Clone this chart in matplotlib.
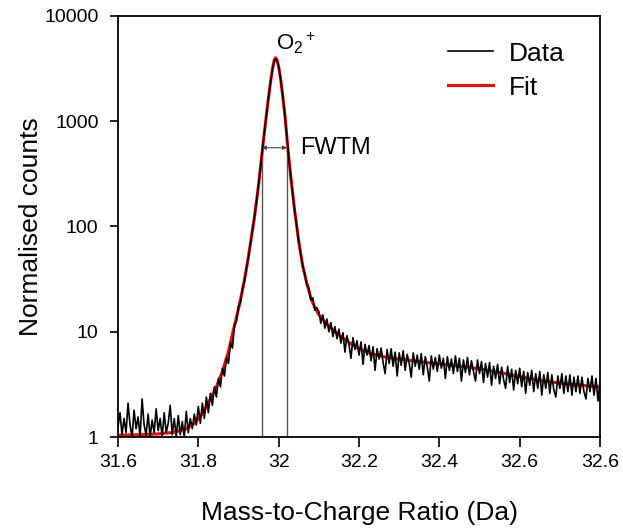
import numpy as np
import matplotlib
matplotlib.use('Agg')
import matplotlib.pyplot as plt

plt.rcParams['font.family'] = ['Liberation Sans', 'DejaVu Sans']
plt.rcParams['mathtext.fontset'] = 'custom'
plt.rcParams['mathtext.rm'] = 'Liberation Sans'
plt.rcParams['mathtext.it'] = 'Liberation Sans:italic'

# measured spectrum, 0.005 Da steps from 31.600 to 32.800
data_start = 31.6
data_step = 0.005
data_counts = [
    1.25, 1.7, 1.05, 1.5, 1.1, 2.1, 1.3, 1.0, 1.8, 1.2,
    1.55, 1.0, 2.3, 1.3, 1.05, 1.65, 1.0, 1.45, 1.1, 1.85,
    1.15, 1.5, 1.0, 1.7, 1.1, 1.35, 2.0, 1.05, 1.5, 1.0,
    1.6, 1.05, 1.4, 1.0, 1.75, 1.1, 1.5, 1.2, 1.65, 1.3,
    1.95, 1.35, 2.1, 1.5, 2.4, 1.7, 2.6, 2.0, 3.0, 2.4,
    3.6, 3.0, 4.5, 3.8, 5.6, 5.0, 7.8, 7.0, 11.6, 12.5,
    17.5, 19, 26, 30, 41, 51, 70, 93, 125, 175,
    250, 370, 560, 820, 1200, 1700, 2400, 3200, 3850, 3900,
    3300, 2500, 1750, 1200, 750, 450, 300, 200, 140, 100,
    72, 54, 42, 35, 28, 26, 20, 21, 16, 17,
    15.5, 12.0, 14.5, 10.8, 13.2, 10.0, 12.2, 9.0, 11.2, 8.6,
    10.6, 7.8, 9.8, 6.4, 9.2, 7.6, 5.6, 8.8, 6.8, 8.2,
    6.0, 8.0, 4.9, 7.6, 6.0, 7.4, 5.3, 7.2, 4.3, 6.9,
    5.5, 7.0, 5.1, 4.0, 6.8, 5.0, 6.9, 4.7, 6.4, 3.8,
    6.3, 4.8, 6.6, 4.3, 6.1, 5.0, 3.7, 6.3, 4.7, 6.0,
    4.4, 6.2, 3.9, 5.8, 4.6, 3.4, 5.9, 4.4, 5.7, 4.2,
    6.0, 4.5, 5.6, 3.6, 5.8, 4.3, 5.5, 4.0, 5.9, 4.2,
    5.6, 3.4, 5.4, 4.1, 5.7, 3.9, 5.3, 4.2, 3.4, 5.4,
    4.0, 5.2, 3.3, 5.0, 3.7, 5.1, 3.1, 4.7, 3.6, 4.9,
    3.2, 4.6, 3.5, 2.9, 4.7, 3.3, 4.4, 2.8, 4.3, 3.2,
    4.5, 3.0, 4.2, 2.6, 4.1, 3.1, 4.3, 2.7, 4.0, 2.9,
    4.2, 2.5, 3.9, 2.9, 4.1, 2.6, 3.9, 2.8, 2.4, 3.8,
    2.9, 4.0, 2.6, 3.8, 2.7, 3.9, 2.5, 3.7, 2.7, 3.8,
    2.6, 3.7, 2.7, 2.3, 3.6, 2.7, 3.8, 2.5, 3.6, 2.2,
    3.4,
]

# fitted peak shape
fit_mz = [31.600, 31.650, 31.700, 31.740, 31.770, 31.790, 31.810, 31.830, 31.845,
          31.860, 31.875, 31.890, 31.900, 31.910, 31.920, 31.930, 31.940, 31.950,
          31.960, 31.967, 31.974, 31.980, 31.985, 31.989, 31.992, 31.995, 32.000,
          32.005, 32.010, 32.016, 32.022, 32.030, 32.040, 32.050, 32.060, 32.070,
          32.080, 32.090, 32.100, 32.120, 32.140, 32.160, 32.180, 32.200, 32.230,
          32.260, 32.300, 32.350, 32.400, 32.450, 32.500, 32.550, 32.600, 32.650,
          32.700, 32.750, 32.800]
fit_counts = [1.04, 1.05, 1.07, 1.11, 1.2, 1.35, 1.65, 2.3, 3.0,
              4.2, 6.5, 11.5, 16.5, 25, 40, 70, 125, 250,
              560, 950, 1600, 2400, 3200, 3800, 4000, 3900, 3300,
              2500, 1750, 1100, 600, 300, 140, 72, 42, 29,
              21, 17, 14.5, 11.8, 10.0, 8.7, 7.7, 6.9, 6.2,
              5.8, 5.5, 5.2, 4.95, 4.7, 4.45, 4.1, 3.75, 3.45,
              3.25, 3.1, 3.0]

# full width at tenth maximum markers
fwtm_left = 31.958
fwtm_right = 32.021
fwtm_level = 560

x_ticks = [31.6, 31.8, 32.0, 32.2, 32.4, 32.6, 32.8]
x_tick_labels = ['31.6', '31.8', '32', '32.2', '32.4', '32.6', '32.6']
y_ticks = [1, 10, 100, 1000, 10000]
y_tick_labels = ['1', '10', '100', '1000', '10000']

data_mz = data_start + data_step * np.arange(len(data_counts))

fig = plt.figure(figsize=(6.23, 5.29), dpi=100)
ax = fig.add_axes([0.1894, 0.1739, 0.7737, 0.7959])

ax.plot(fit_mz, fit_counts, color='#ff0000', lw=2.2, label='Fit', zorder=2)
ax.plot(data_mz, data_counts, color='black', lw=1.2, label='Data', zorder=3)

ax.vlines([fwtm_left, fwtm_right], 1, fwtm_level, color='#555555', lw=1.0, zorder=1)
ax.annotate('', xy=(fwtm_left, fwtm_level), xytext=(fwtm_right, fwtm_level),
            arrowprops=dict(arrowstyle='<|-|>', color='#444444', lw=0.8,
                            mutation_scale=6, shrinkA=0, shrinkB=0))
ax.text(32.053, fwtm_level, 'FWTM', fontsize=17, va='center', ha='left')
ax.text(31.994, 4750, 'O$_2{}^+$', fontsize=16, va='baseline', ha='left')

ax.set_yscale('log')
ax.set_xlim(31.6, 32.8)
ax.set_ylim(1, 10000)
ax.set_xticks(x_ticks)
ax.set_xticklabels(x_tick_labels, fontsize=14)
ax.set_yticks(y_ticks)
ax.set_yticklabels(y_tick_labels, fontsize=14)
ax.minorticks_off()
ax.tick_params(axis='x', direction='out', length=7, width=1.2, pad=5)
ax.tick_params(axis='y', direction='out', length=6, width=1.2, pad=8)
for sp in ax.spines.values():
    sp.set_linewidth(1.3)

ax.set_xlabel('Mass-to-Charge Ratio (Da)', fontsize=19, labelpad=22)
ax.set_ylabel('Normalised counts', fontsize=19, labelpad=1)

handles, labels = ax.get_legend_handles_labels()
ax.legend(handles[::-1], labels[::-1], loc='upper left', bbox_to_anchor=(0.685, 0.939),
          frameon=False, fontsize=19, handlelength=1.7, handletextpad=0.6,
          borderpad=0, borderaxespad=0, labelspacing=0.38)

fig.savefig('out.png', dpi=100)
